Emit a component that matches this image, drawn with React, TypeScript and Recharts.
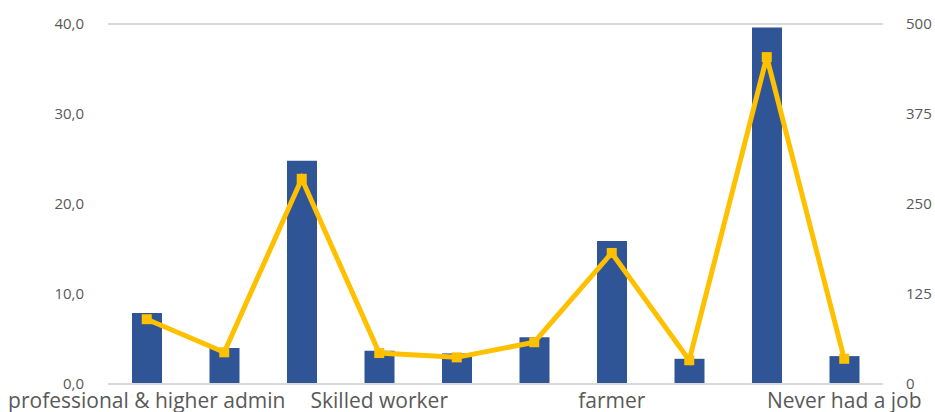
import { ComposedChart, Bar, Line, XAxis, YAxis, CartesianGrid } from 'recharts';

const categories = [
  'professional & higher admin',
  'Managerial & technical',
  'Intermediate',
  'Skilled worker',
  'Semi-skilled worker',
  'Unskilled worker',
  'farmer',
  'Armed forces',
  'Unemployed',
  'Never had a job',
];

// share of respondents (%), left axis
const percentValues = [7.9, 4.0, 24.8, 3.7, 3.4, 5.2, 15.9, 2.8, 39.6, 3.1];
// respondent counts, right axis
const countValues = [90, 44, 285, 43, 37, 58, 182, 33, 454, 35];

const leftTicks = [0, 10, 20, 30, 40];
const rightTicks = [0, 125, 250, 375, 500];

const data = categories.map((name, i) => ({
  name,
  percent: percentValues[i],
  count: countValues[i],
}));

const FONT = '"Open Sans", sans-serif';
const TEXT = '#595959';

// square marker like the spreadsheet's line markers
const SquareDot = (props: any) => {
  const { cx, cy } = props;
  if (cx == null || cy == null) return null;
  return <rect x={cx - 5} y={cy - 5} width={10} height={10} fill="#FFC000" />;
};

export default function App() {
  return (
    <div style={{ position: 'absolute', left: 0, top: 0, width: 935, height: 412, background: '#fff' }}>
      <ComposedChart
        width={935}
        height={412}
        data={data}
        margin={{ top: 24, right: 0, bottom: 0, left: 0 }}
      >
        <CartesianGrid vertical={false} stroke="#d9d9d9" strokeWidth={2} />
        <XAxis
          dataKey="name"
          interval={2}
          height={28}
          tickLine={false}
          axisLine={{ stroke: '#d9d9d9', strokeWidth: 2 }}
          tickSize={0}
          tickMargin={9}
          tick={{ fill: TEXT, fontSize: 21, fontFamily: FONT }}
        />
        <YAxis
          yAxisId="left"
          orientation="left"
          width={108}
          domain={[0, 40]}
          ticks={leftTicks}
          tickFormatter={(v: number) => v.toFixed(1).replace('.', ',')}
          axisLine={false}
          tickLine={false}
          tickSize={0}
          tickMargin={24}
          tick={{ fill: TEXT, fontSize: 15, fontFamily: FONT }}
        />
        <YAxis
          yAxisId="right"
          orientation="right"
          width={52}
          domain={[0, 500]}
          ticks={rightTicks}
          axisLine={false}
          tickLine={false}
          tickSize={0}
          tickMargin={23}
          tick={{ fill: TEXT, fontSize: 15, fontFamily: FONT }}
        />
        <Bar yAxisId="left" dataKey="percent" fill="#2F5597" barSize={30} isAnimationActive={false} />
        <Line
          yAxisId="right"
          dataKey="count"
          type="linear"
          stroke="#FFC000"
          strokeWidth={5}
          dot={<SquareDot />}
          activeDot={false}
          isAnimationActive={false}
        />
      </ComposedChart>
    </div>
  );
}
